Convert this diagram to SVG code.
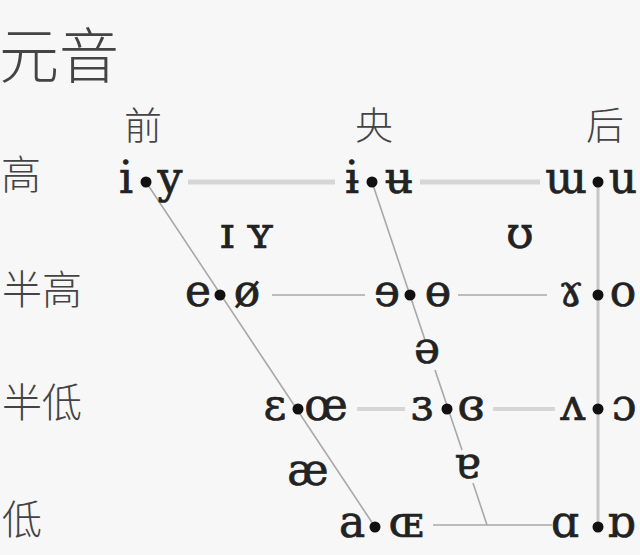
<svg xmlns="http://www.w3.org/2000/svg" width="640" height="555" viewBox="0 0 640 555">
<style>
.cjk{font-family:"Noto Sans CJK SC","Noto Sans CJK JP",sans-serif;font-weight:300;fill:#444;text-anchor:middle}
.ipa{font-family:"DejaVu Serif","Liberation Serif",serif;font-size:44px;fill:#222;stroke:#222;stroke-width:0.7;text-anchor:middle}
.thick{stroke:#d6d6d6;stroke-width:5;fill:none}
.thin{stroke:#a8a8a8;stroke-width:1.6;fill:none}
.back{stroke:#c6c6c6;stroke-width:3;fill:none}
.dot{fill:#111}
</style>
<rect width="640" height="555" fill="#f7f7f7"/>
<g id="title"><text class="cjk" x="59" y="78" font-size="60">元音</text></g>
<g id="headers">
<text class="cjk" x="143" y="139" font-size="38">前</text>
<text class="cjk" x="374" y="139" font-size="38">央</text>
<text class="cjk" x="605" y="139" font-size="38">后</text>
</g>
<g id="rows">
<text class="cjk" x="21" y="189" font-size="40">高</text>
<text class="cjk" x="42" y="304" font-size="40">半高</text>
<text class="cjk" x="42" y="417" font-size="40">半低</text>
<text class="cjk" x="22" y="534" font-size="40">低</text>
</g>
<g id="connectors">
<line class="thick" x1="188" y1="182" x2="335" y2="182"/>
<line class="thick" x1="420" y1="182" x2="540" y2="182"/>
<line class="thin" x1="272" y1="295" x2="365" y2="295"/>
<line class="thin" x1="458" y1="295" x2="547" y2="295"/>
<line class="thick" x1="357" y1="409" x2="405" y2="409" style="stroke-width:4"/>
<line class="thick" x1="493" y1="409" x2="555" y2="409" style="stroke-width:4"/>
<line class="thin" x1="433" y1="525" x2="552" y2="525"/>
<line class="thin" x1="146" y1="182" x2="375" y2="527"/>
<line class="thin" x1="372" y1="182" x2="425" y2="340"/>
<line class="thin" x1="435" y1="370" x2="462" y2="450"/>
<line class="thin" x1="473" y1="483" x2="487" y2="525"/>
<line class="back" x1="598" y1="182" x2="598" y2="527"/>
</g>
<g id="v-i-y"><circle class="dot" cx="146" cy="182" r="5.5"/><text class="ipa" x="126" y="193">i</text><text class="ipa" x="170" y="193">y</text></g>
<g id="v-ɨ-ʉ"><circle class="dot" cx="372" cy="182" r="5.5"/><text class="ipa" x="352" y="193">ɨ</text><text class="ipa" x="399" y="193">ʉ</text></g>
<g id="v-ɯ-u"><circle class="dot" cx="598" cy="182" r="5.5"/><text class="ipa" x="566" y="193">ɯ</text><text class="ipa" x="623" y="193">u</text></g>
<g id="v-ɪ-ʏ"><text class="ipa" x="227" y="248">ɪ</text><text class="ipa" x="260" y="248">ʏ</text></g>
<g id="v-ʊ"><text class="ipa" x="520" y="248">ʊ</text></g>
<g id="v-e-ø"><circle class="dot" cx="220" cy="295" r="5.5"/><text class="ipa" x="198" y="306">e</text><text class="ipa" x="247" y="306">ø</text></g>
<g id="v-ɘ-ɵ"><circle class="dot" cx="410" cy="295" r="5.5"/><text class="ipa" x="387" y="306">ɘ</text><text class="ipa" x="438" y="306">ɵ</text></g>
<g id="v-ɤ-o"><circle class="dot" cx="598" cy="295" r="5.5"/><text class="ipa" x="571" y="306">ɤ</text><text class="ipa" x="623" y="306">o</text></g>
<g id="v-ə"><text class="ipa" x="427" y="363">ə</text></g>
<g id="v-ɛ-œ"><circle class="dot" cx="298" cy="409" r="5.5"/><text class="ipa" x="275" y="420">ɛ</text><text class="ipa" x="326" y="420">œ</text></g>
<g id="v-ɜ-ɞ"><circle class="dot" cx="447" cy="409" r="5.5"/><text class="ipa" x="422" y="420">ɜ</text><text class="ipa" x="471" y="420">ɞ</text></g>
<g id="v-ʌ-ɔ"><circle class="dot" cx="598" cy="409" r="5.5"/><text class="ipa" x="573" y="420">ʌ</text><text class="ipa" x="624" y="420">ɔ</text></g>
<g id="v-æ"><text class="ipa" x="308" y="485">æ</text></g>
<g id="v-ɐ"><text class="ipa" x="467" y="478">ɐ</text></g>
<g id="v-a-ɶ"><circle class="dot" cx="375" cy="527" r="5.5"/><text class="ipa" x="352" y="537">a</text><text class="ipa" x="406" y="537">ɶ</text></g>
<g id="v-ɑ-ɒ"><circle class="dot" cx="598" cy="527" r="5.5"/><text class="ipa" x="565" y="537">ɑ</text><text class="ipa" x="621" y="537">ɒ</text></g>
</svg>
